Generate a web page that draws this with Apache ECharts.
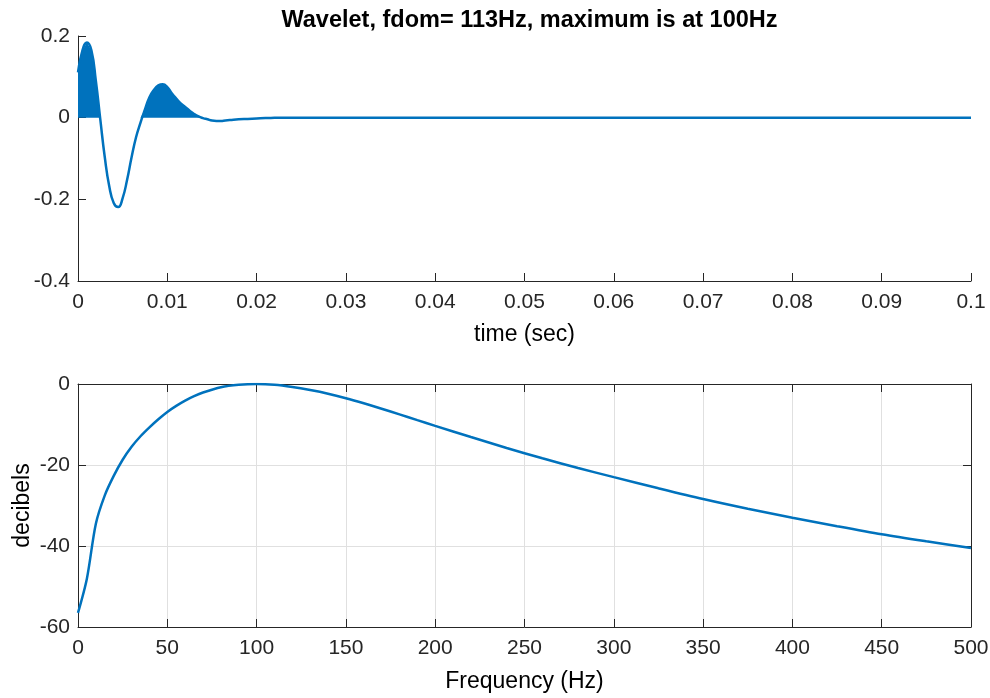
<!DOCTYPE html>
<html>
<head>
<meta charset="utf-8">
<script src="https://cdn.jsdelivr.net/npm/echarts@6/dist/echarts.min.js"></script>
<style>
html,body{margin:0;padding:0;background:#fff;}
#chart{width:990px;height:698px;}
</style>
</head>
<body>
<div id="chart"></div>
<script>
// ---- Data: wavelet (time domain) ----
const timeSec = [0,0.0005,0.001,0.0015,0.002,0.0025,0.003,0.0035,0.004,0.0045,0.005,0.0055,0.006,0.0065,0.007,0.0075,0.008,0.0085,0.009,0.0095,0.010,0.0105,0.011,0.0115,0.012,0.0125,0.013,0.0135,0.014,0.0145,0.015,0.0155,0.016,0.0165,0.017,0.018,0.019,0.020,0.021,0.022,0.023,0.1];
const amplitude = [0.111,0.165,0.184,0.165,0.09,-0.005,-0.097,-0.168,-0.209,-0.219,-0.197,-0.152,-0.097,-0.048,-0.012,0.02,0.05,0.068,0.079,0.082,0.075,0.06,0.047,0.035,0.026,0.017,0.009,0.003,-0.001,-0.004,-0.007,-0.008,-0.008,-0.007,-0.006,-0.004,-0.003,-0.002,-0.001,-0.0005,0,0];

// ---- Data: amplitude spectrum ----
const freqHz = [0,5,10,15,20,25,30,35,40,45,50,55,60,65,70,80,90,100,110,120,130,140,150,160,170,180,190,200,220,240,260,280,300,325,350,375,400,425,450,475,500];
const decibels = [-56.5,-48,-34.5,-27.5,-22.7,-18.7,-15.5,-12.9,-10.7,-8.7,-6.9,-5.4,-4.1,-3.0,-2.1,-0.8,-0.2,0,-0.2,-0.75,-1.5,-2.4,-3.5,-4.75,-6.1,-7.5,-8.92,-10.33,-13.1,-15.8,-18.35,-20.75,-23.0,-25.75,-28.4,-30.8,-33.0,-35.1,-37.1,-38.85,-40.5];

// ---- Tick labels ----
const timeTicks = ['0','0.01','0.02','0.03','0.04','0.05','0.06','0.07','0.08','0.09','0.1'];
const ampTicks = ['-0.4','-0.2','0','0.2'];
const freqTicks = ['0','50','100','150','200','250','300','350','400','450','500'];
const dbTicks = ['-60','-40','-20','0'];

const titleText = 'Wavelet, fdom= 113Hz, maximum is at 100Hz';

// build series data
const waveLine = timeSec.map((t,i)=>[t, amplitude[i]]);
// positive-lobe fill (variable area): clip at zero
const waveFill = [];
for (let i=0;i<timeSec.length;i++){
  if (i>0){
    const a=amplitude[i-1], b=amplitude[i];
    if ((a>0 && b<0) || (a<0 && b>0)){
      const tc = timeSec[i-1] + (timeSec[i]-timeSec[i-1])*(a/(a-b));
      waveFill.push([tc,0]);
    }
  }
  waveFill.push([timeSec[i], Math.max(0, amplitude[i])]);
}
const specLine = freqHz.map((f,i)=>[f, decibels[i]]);

const FONT = '"Liberation Sans", Arial, Helvetica, sans-serif';
const AX = '#262626';
const BLUE = '#0072BD';
const TICKFS = 21, LABFS = 23;

function lab(arr, min, step){
  return v => { const k = Math.round((v-min)/step); return arr[k] !== undefined ? arr[k] : ''; };
}

const chart = echarts.init(document.getElementById('chart'), null, {renderer:'canvas'});
chart.setOption({
  backgroundColor:'#fff',
  animation:false,
  title:{
    text:titleText, left:524.5, top:4, textAlign:'center',
    textStyle:{fontFamily:FONT, fontSize:23.5, fontWeight:'bold', color:'#000'}
  },
  grid:[
    {left:78, right:19, top:36, height:245, containLabel:false, outerBoundsMode:'none'},
    {left:78, right:19, top:384, height:243, containLabel:false, outerBoundsMode:'none'}
  ],
  xAxis:[
    {gridIndex:0, type:'value', min:0, max:0.1, interval:0.01,
     name:'time (sec)', nameLocation:'middle', nameGap:42, nameMoveOverlap:false,
     nameTextStyle:{fontFamily:FONT, fontSize:LABFS, color:'#000'},
     axisLine:{onZero:false, lineStyle:{color:AX, width:1}},
     axisTick:{inside:true, length:8, lineStyle:{color:AX}},
     axisLabel:{fontFamily:FONT, fontSize:TICKFS, color:'#262626', margin:11, formatter:lab(timeTicks,0,0.01), showMaxLabel:true, showMinLabel:true},
     splitLine:{show:false}},
    {gridIndex:1, type:'value', min:0, max:500, interval:50,
     name:'Frequency (Hz)', nameLocation:'middle', nameGap:43, nameMoveOverlap:false,
     nameTextStyle:{fontFamily:FONT, fontSize:LABFS, color:'#000'},
     axisLine:{onZero:false, lineStyle:{color:AX, width:1}},
     axisTick:{inside:true, length:8, lineStyle:{color:AX}},
     axisLabel:{fontFamily:FONT, fontSize:TICKFS, color:'#262626', margin:11, formatter:lab(freqTicks,0,50)},
     splitLine:{show:true, lineStyle:{color:'#e0e0e0', width:1}}},
    {gridIndex:1, type:'value', position:'top', min:0, max:500, interval:50,
     axisLine:{onZero:false, lineStyle:{color:AX, width:1}},
     axisTick:{inside:true, length:8, lineStyle:{color:AX}},
     axisLabel:{show:false}, splitLine:{show:false}}
  ],
  yAxis:[
    {gridIndex:0, type:'value', min:-0.4, max:0.2, interval:0.2,
     axisLine:{show:true, onZero:false, lineStyle:{color:AX, width:1}},
     axisTick:{show:true, inside:true, length:8, lineStyle:{color:AX}},
     axisLabel:{fontFamily:FONT, fontSize:TICKFS, color:'#262626', margin:8, formatter:lab(ampTicks,-0.4,0.2)},
     splitLine:{show:false}},
    {gridIndex:1, type:'value', min:-60, max:0, interval:20,
     name:'decibels', nameLocation:'middle', nameGap:44, nameMoveOverlap:false,
     nameTextStyle:{fontFamily:FONT, fontSize:LABFS, color:'#000'},
     axisLine:{show:true, onZero:false, lineStyle:{color:AX, width:1}},
     axisTick:{show:true, inside:true, length:8, lineStyle:{color:AX}},
     axisLabel:{fontFamily:FONT, fontSize:TICKFS, color:'#262626', margin:8, formatter:lab(dbTicks,-60,20)},
     splitLine:{show:true, lineStyle:{color:'#e0e0e0', width:1}}},
    {gridIndex:1, type:'value', position:'right', min:-60, max:0, interval:20,
     axisLine:{show:true, onZero:false, lineStyle:{color:AX, width:1}},
     axisTick:{show:true, inside:true, length:8, lineStyle:{color:AX}},
     axisLabel:{show:false}, splitLine:{show:false}}
  ],
  series:[
    {type:'line', xAxisIndex:0, yAxisIndex:0, data:waveFill, symbol:'none',
     lineStyle:{width:0}, areaStyle:{color:BLUE, opacity:1, origin:0}, z:2},
    {type:'line', xAxisIndex:0, yAxisIndex:0, data:waveLine, symbol:'none', smooth:0.5,
     lineStyle:{color:BLUE, width:2.5}, z:3},
    {type:'line', xAxisIndex:1, yAxisIndex:1, data:specLine, symbol:'none', smooth:0.3,
     lineStyle:{color:BLUE, width:2.5}, z:3}
  ]
});
</script>
</body>
</html>
